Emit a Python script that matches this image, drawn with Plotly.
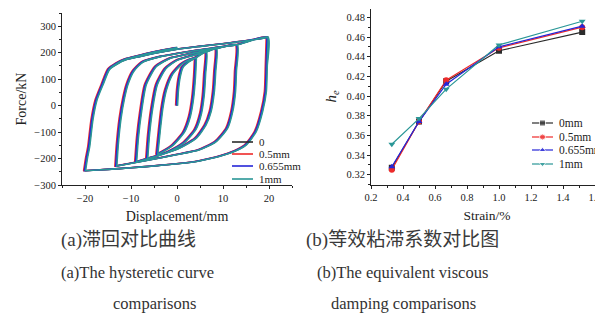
import plotly.graph_objects as go

# ---------------- data: (a) hysteretic curves (displacement mm, force kN) ----------------
INITIAL = [(0, 0), (0.2, 60), (0.6, 110), (1.2, 145), (2.6, 167), (4.1, 182)]
L4_DOWN = [(4.1, 182), (3.9, 110), (3.5, 30), (2.8, -40), (1.5, -100), (-1.0, -150), (-4.3, -185)]
L4_UP = [(-4.3, -185), (-3.8, -100), (-3.2, -10), (-2.4, 60), (-1.0, 120), (1.0, 158), (2.5, 172), (4.1, 182)]
L6_DOWN = [(6.3, 203), (6.1, 120), (5.8, 40), (5.2, -30), (4.0, -90), (1.5, -140), (-2.0, -175), (-6.5, -203)]
L6_UP = [(-6.5, -203), (-6.1, -110), (-5.4, -10), (-4.4, 79), (-2.5, 140), (0.0, 172), (3.0, 188), (6.3, 203)]
L8_DOWN = [(8.5, 215), (8.3, 130), (8.0, 53), (7.3, -22), (6.2, -73), (4.1, -123), (0.4, -161), (-4.0, -188), (-8.9, -213)]
L8_UP = [(-8.9, -213), (-8.5, -120), (-7.8, -20), (-6.8, 79), (-4.6, 148), (-1.4, 180), (2.0, 193), (5.0, 204), (8.5, 215)]
L13_DOWN = [(13.0, 230), (12.8, 130), (12.6, 53), (12.0, -22), (10.9, -85), (8.4, -136), (4.8, -167), (0.0, -185),
            (-7.0, -208), (-13.2, -228)]
L13_UP = [(-13.2, -228), (-12.9, -150), (-12.3, -50), (-11.5, 30), (-10.8, 79), (-9.5, 130), (-7.5, 165),
          (-3.5, 186), (0.0, 197), (4.0, 208), (8.0, 218), (13.0, 230)]
L20_DOWN = [(19.7, 258), (19.5, 150), (19.3, 53), (18.5, -22), (17.1, -98), (14.9, -149), (11.3, -180),
            (5.0, -208), (0.0, -220), (-5.0, -228), (-10.0, -235), (-15.0, -241), (-20.0, -246)]
L20_UP = [(-20.0, -246), (-19.6, -200), (-19.1, -155), (-18.4, -54), (-17.5, 22), (-16.2, 79), (-14.8, 136),
          (-13.0, 158), (-11.2, 173), (-8.0, 186), (-4.6, 199), (0.0, 213), (5.0, 224), (10.0, 234),
          (15.0, 245), (19.7, 258)]
TAIL = [(-20.0, -246), (-19.6, -200), (-19.1, -155), (-18.4, -54), (-17.5, 22), (-16.2, 80), (-14.8, 138),
        (-13.0, 161), (-11.2, 176), (-8.0, 190), (-4.6, 204), (0.0, 219)]

HYST_SERIES = ["0", "0.5mm", "0.655mm", "1mm"]
HYST_SHIFT = [0.0, -0.3, -0.12, 0.12]   # small displacement offsets between series

# ---------------- data: (b) equivalent viscous damping ----------------
STRAIN = [0.33, 0.5, 0.67, 1.0, 1.52]
HE_0MM = [0.327, 0.374, 0.415, 0.446, 0.465]
HE_05MM = [0.325, 0.374, 0.416, 0.449, 0.470]
HE_0655MM = [0.328, 0.374, 0.412, 0.450, 0.471]
HE_1MM = [0.351, 0.377, 0.407, 0.452, 0.476]
HE_SERIES = ["0mm", "0.5mm", "0.655mm", "1mm"]

COLORS = ["#2b2b2b", "#ee2a2a", "#2626d8", "#2a9797"]
SYMBOLS = ["square", "circle", "triangle-up", "triangle-down"]

path = (INITIAL + L4_DOWN + L4_UP + L6_DOWN + L6_UP + L8_DOWN + L8_UP + L13_DOWN + L13_UP
        + L20_DOWN + L20_UP + L20_DOWN + TAIL)

# page is 603x331; the html body has an 8px default margin, so the figure is placed at (8, 8)
PAGE_W, PAGE_H, OFF = 603, 331, 8
W, H = PAGE_W - OFF, PAGE_H - OFF


def fx(px):
    return (px - OFF) / W


def fy(py):
    return 1 - (py - OFF) / H


serif = "Liberation Serif, Times New Roman, serif"
fig = go.Figure()
for name, dx, col in zip(HYST_SERIES, HYST_SHIFT, COLORS):
    fig.add_trace(go.Scatter(
        x=[p[0] + dx for p in path], y=[p[1] for p in path], mode="lines", name=name,
        line=dict(color=col, width=1.6, shape="spline", smoothing=0.6),
        xaxis="x", yaxis="y", showlegend=False))

for name, vals, col, sym in zip(HE_SERIES, [HE_0MM, HE_05MM, HE_0655MM, HE_1MM], COLORS, SYMBOLS):
    fig.add_trace(go.Scatter(
        x=STRAIN, y=vals, mode="lines+markers", name=name,
        line=dict(color=col, width=1.2), marker=dict(symbol=sym, size=6, color=col),
        xaxis="x2", yaxis="y2", showlegend=False))

# ---- hand-drawn legends (overlay axis in page pixels) ----
LEG_A = dict(x0=232, x1=253, tx=257, rows=[142, 154, 166, 179])
LEG_B = dict(x0=532, x1=553, tx=557, rows=[123, 137, 150, 164])
for i, (name, col) in enumerate(zip(HYST_SERIES, COLORS)):
    yy = LEG_A["rows"][i]
    fig.add_trace(go.Scatter(x=[LEG_A["x0"], LEG_A["x1"]], y=[yy, yy], mode="lines",
                             line=dict(color=col, width=1.6), xaxis="x3", yaxis="y3",
                             showlegend=False, hoverinfo="skip"))
    fig.add_annotation(text=name, x=LEG_A["tx"], y=yy, xref="x3", yref="y3", showarrow=False,
                       xanchor="left", yanchor="middle", font=dict(family=serif, size=11, color="#222"))
for i, (name, col, sym) in enumerate(zip(HE_SERIES, COLORS, SYMBOLS)):
    yy = LEG_B["rows"][i]
    xm = (LEG_B["x0"] + LEG_B["x1"]) / 2
    fig.add_trace(go.Scatter(x=[LEG_B["x0"], xm, LEG_B["x1"]], y=[yy, yy, yy], mode="lines+markers",
                             line=dict(color=col, width=1.2),
                             marker=dict(symbol=sym, size=[0, 6, 0], color=col),
                             xaxis="x3", yaxis="y3", showlegend=False, hoverinfo="skip"))
    fig.add_annotation(text=name, x=LEG_B["tx"], y=yy, xref="x3", yref="y3", showarrow=False,
                       xanchor="left", yanchor="middle", font=dict(family=serif, size=11.5, color="#222"))

axis_common = dict(showline=True, linecolor="#222", linewidth=1, ticks="outside", ticklen=3,
                   tickcolor="#222", tickwidth=1, showgrid=False, zeroline=False, mirror=False,
                   automargin=False, tickfont=dict(family=serif, size=10.5, color="#222"))

fig.update_layout(
    width=W, height=H, margin=dict(l=0, r=0, t=0, b=0, autoexpand=False),
    paper_bgcolor="white", plot_bgcolor="rgba(0,0,0,0)", showlegend=False,
    xaxis=dict(domain=[fx(62), fx(292)], range=[-25, 25], tickvals=[-20, -10, 0, 10, 20],
               minor=dict(dtick=5, ticklen=2, ticks="outside", tickcolor="#222"),
               title=dict(text="Displacement/mm", font=dict(family=serif, size=14, color="#222"), standoff=8),
               anchor="y", **axis_common),
    yaxis=dict(domain=[fy(185), fy(13)], range=[-300, 350], tickvals=[-300, -200, -100, 0, 100, 200, 300],
               minor=dict(dtick=50, ticklen=2, ticks="outside", tickcolor="#222"),
               title=dict(text="Force/kN", font=dict(family=serif, size=14, color="#222"), standoff=4),
               anchor="x", **axis_common),
    xaxis2=dict(domain=[fx(371), 1.0], range=[0.2, 1.65], tickvals=[0.2, 0.4, 0.6, 0.8, 1.0, 1.2, 1.4, 1.6],
                ticktext=["0.2", "0.4", "0.6", "0.8", "1.0", "1.2", "1.4", "1.6"],
                minor=dict(dtick=0.1, ticklen=2, ticks="outside", tickcolor="#222"),
                title=dict(text="Strain/%", font=dict(family=serif, size=13.5, color="#222"), standoff=8),
                anchor="y2", **axis_common),
    yaxis2=dict(domain=[fy(184.5), fy(8.5)], range=[0.31, 0.489],
                tickvals=[0.32, 0.34, 0.36, 0.38, 0.40, 0.42, 0.44, 0.46, 0.48],
                ticktext=["0.32", "0.34", "0.36", "0.38", "0.40", "0.42", "0.44", "0.46", "0.48"],
                minor=dict(dtick=0.01, ticklen=2, ticks="outside", tickcolor="#222"),
                title=dict(text="<i>h<sub>e</sub></i>", font=dict(family=serif, size=15, color="#222"), standoff=6),
                anchor="x2", **axis_common),
    xaxis3=dict(domain=[0, 1], range=[OFF, PAGE_W], visible=False, fixedrange=True, anchor="y3"),
    yaxis3=dict(domain=[0, 1], range=[PAGE_H, OFF], visible=False, fixedrange=True, anchor="x3"),
)

cap_font = dict(family="Liberation Serif, Noto Sans CJK SC, serif", size=19, color="#3a3a3a")
cap_font_en = dict(family=serif, size=16.5, color="#333")
captions = [
    ("(a)滞回对比曲线", 128, 240, cap_font),
    ("(a)The hysteretic curve", 137, 272, cap_font_en),
    ("comparisons", 154, 303, cap_font_en),
    ("(b)等效粘滞系数对比图", 402, 240, cap_font),
    ("(b)The equivalent viscous", 402, 272, cap_font_en),
    ("damping comparisons", 403, 303, cap_font_en),
]
for txt, xc, yc, fnt in captions:
    fig.add_annotation(text=txt, x=fx(xc), y=fy(yc), xref="paper", yref="paper",
                       showarrow=False, xanchor="center", yanchor="middle", font=fnt)

fig.write_html("out.html")
